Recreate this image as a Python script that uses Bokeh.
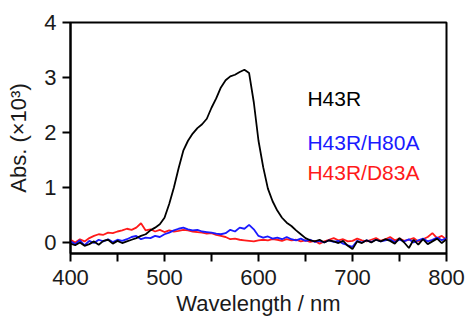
from bokeh.plotting import figure
from bokeh.models import Range1d, FixedTicker
from bokeh.core.properties import value
from bokeh.embed import file_html
from bokeh.resources import INLINE

wavelength = list(range(400, 801, 5))

h43r = [-0.02, -0.05, 0.00, -0.06, -0.03, 0.02, -0.04, 0.03, 0.05, -0.02,
        0.03, -0.01, 0.02, 0.05, 0.08, 0.12, 0.15, 0.22, 0.27, 0.33,
        0.45, 0.70, 1.00, 1.35, 1.67, 1.85, 1.98, 2.08, 2.15, 2.25,
        2.45, 2.62, 2.82, 2.95, 3.02, 3.05, 3.10, 3.14, 3.08, 2.55,
        1.85, 1.37, 0.98, 0.75, 0.58, 0.45, 0.36, 0.30, 0.22, 0.15,
        0.08, 0.04, 0.02, 0.05, 0.00, 0.04, 0.02, -0.01, 0.03, -0.06,
        -0.12, 0.02, -0.01, 0.04, 0.00, 0.05, 0.02, 0.06, 0.03, -0.02,
        0.08, 0.00, -0.10, 0.05, -0.04, 0.06, -0.03, 0.02, 0.07, -0.01,
        0.06]

h43r_h80a = [0.02, -0.03, 0.04, -0.05, 0.03, -0.01, 0.05, 0.02, 0.06, 0.01,
             0.05, 0.03, 0.06, 0.10, 0.12, 0.06, 0.09, 0.08, 0.12, 0.10,
             0.15, 0.18, 0.22, 0.25, 0.27, 0.24, 0.22, 0.23, 0.20, 0.19,
             0.18, 0.16, 0.15, 0.17, 0.23, 0.20, 0.27, 0.25, 0.32, 0.24,
             0.12, 0.09, 0.11, 0.07, 0.09, 0.06, 0.10, 0.06, 0.04, 0.07,
             0.03, 0.05, 0.01, 0.03, 0.00, 0.04, 0.01, 0.03, -0.02, -0.05,
             -0.08, 0.03, 0.00, 0.04, 0.01, 0.05, 0.02, 0.04, 0.06, 0.01,
             0.05, 0.02, 0.06, 0.00, 0.04, 0.07, 0.02, 0.05, 0.09, 0.04,
             0.08]

h43r_d83a = [0.05, 0.00, 0.06, 0.02, 0.08, 0.12, 0.15, 0.14, 0.18, 0.17,
             0.20, 0.22, 0.25, 0.23, 0.27, 0.35, 0.22, 0.24, 0.20, 0.23,
             0.19, 0.22, 0.20, 0.21, 0.23, 0.22, 0.20, 0.19, 0.18, 0.16,
             0.17, 0.14, 0.12, 0.10, 0.06, 0.07, 0.05, 0.04, 0.03, 0.02,
             0.04, 0.05, 0.04, 0.06, 0.05, 0.03, 0.06, 0.04, 0.05, 0.02,
             0.04, 0.01, 0.03, -0.02, 0.02, 0.05, 0.08, 0.04, 0.06, 0.02,
             0.03, 0.07, 0.04, 0.02, 0.05, 0.08, 0.03, 0.06, 0.10, 0.04,
             0.07, 0.03, 0.05, 0.08, 0.02, 0.06, 0.10, 0.17, 0.08, 0.12,
             0.05]

series_names = ["H43R", "H43R/H80A", "H43R/D83A"]
series_colors = ["black", "#1a1aff", "#ff1a1a"]
x_major = [400, 500, 600, 700, 800]
x_minor = [450, 550, 650, 750]
y_major = [0, 1, 2, 3, 4]

FONT = "Liberation Sans"

p = figure(width=465, height=320, output_backend="svg", toolbar_location=None,
           x_range=Range1d(400, 800), y_range=Range1d(-0.2, 4.0),
           min_border_left=70, min_border_right=19, min_border_top=22,
           min_border_bottom=67)
p.grid.visible = False
p.background_fill_color = "white"
p.border_fill_color = "white"
p.outline_line_color = "black"
p.outline_line_width = 2

p.line(wavelength, h43r_d83a, line_color=series_colors[2], line_width=1.8)
p.line(wavelength, h43r_h80a, line_color=series_colors[1], line_width=1.8)
p.line(wavelength, h43r, line_color=series_colors[0], line_width=1.8)

label_x = [652, 652, 652]
label_y = [2.62, 1.82, 1.27]
p.text(x=label_x, y=label_y, text=series_names, text_color=series_colors,
       text_font=value(FONT), text_font_size="21px", text_align="left",
       text_baseline="alphabetic")

xa = p.xaxis[0]
xa.ticker = FixedTicker(ticks=x_major, minor_ticks=x_minor)
xa.axis_label = "Wavelength / nm"
ya = p.yaxis[0]
ya.ticker = FixedTicker(ticks=y_major, minor_ticks=[])
ya.axis_label = "Abs. (×10³)"

for ax in (xa, ya):
    ax.axis_line_width = 2
    ax.axis_line_color = "black"
    ax.major_tick_line_width = 2
    ax.minor_tick_line_width = 2
    ax.major_tick_in = 0
    ax.major_tick_out = 8
    ax.minor_tick_in = 0
    ax.minor_tick_out = 8
    ax.major_label_text_font = FONT
    ax.major_label_text_font_size = "22px"
    ax.major_label_text_color = "#1a1a1a"
    ax.axis_label_text_font = FONT
    ax.axis_label_text_font_size = "22px"
    ax.axis_label_text_font_style = "normal"
    ax.axis_label_text_color = "#1a1a1a"
xa.major_label_standoff = 8
xa.axis_label_standoff = 3
ya.major_label_standoff = 6
ya.axis_label_standoff = 10

open("out.html", "w").write(file_html(p, INLINE))
